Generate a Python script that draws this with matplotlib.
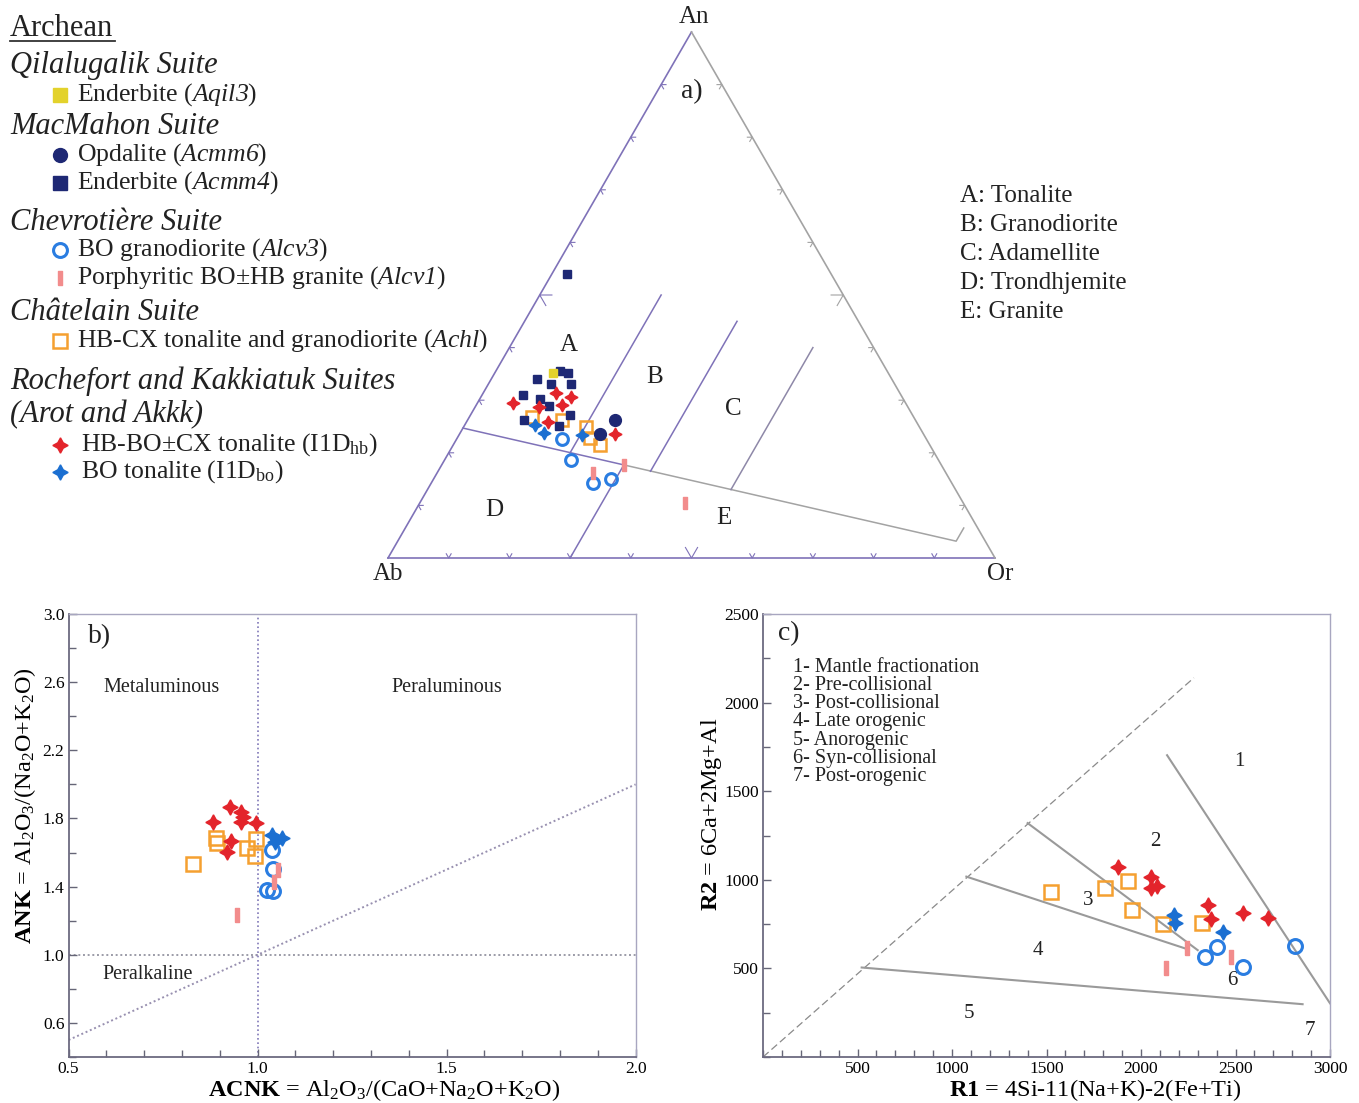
import numpy as np
import matplotlib.pyplot as plt
from matplotlib.path import Path
from matplotlib.ticker import MultipleLocator

plt.rcParams['font.family'] = ['Liberation Serif', 'DejaVu Serif']
plt.rcParams['mathtext.fontset'] = 'custom'
plt.rcParams['mathtext.rm'] = 'Liberation Serif'
plt.rcParams['mathtext.it'] = 'Liberation Serif:italic'
plt.rcParams['mathtext.bf'] = 'Liberation Serif:bold'
# sample codes are set fully in italic (digits included) through \mathsf
plt.rcParams['mathtext.sf'] = 'Liberation Serif:italic'
plt.rcParams['text.color'] = '#222222'

# ---------------- a) normative An-Ab-Or (percent, Ab = 100 - An - Or) ----------------
aqil3_an = [35.2]
aqil3_or = [9.6]
acmm4_an = [35.6, 35.1, 34.0, 33.0, 33.1, 31.0, 30.2, 28.9, 27.2, 26.3, 25.1, 54.0]
acmm4_or = [10.5, 12.1, 7.6, 10.4, 13.6, 6.8, 10.0, 12.0, 16.4, 9.2, 15.6, 2.5]
acmm6_an = [26.3, 23.6]
acmm6_or = [24.3, 23.1]
hb_an = [29.4, 31.3, 30.7, 28.8, 29.1, 25.9, 23.6]
hb_or = [5.9, 12.0, 14.8, 10.4, 14.1, 13.4, 25.6]
bo_an = [25.2, 23.7, 23.4]
bo_or = [11.6, 13.8, 20.3]
alcv3_an = [22.6, 18.6, 14.3, 15.0]
alcv3_or = [17.3, 20.9, 26.7, 29.2]
alcv1_an = [17.7, 16.1, 10.4]
alcv1_or = [30.0, 25.8, 43.7]
achl_an = [26.9, 26.3, 25.0, 22.8, 21.5]
achl_or = [10.2, 15.5, 20.1, 21.9, 24.2]

# O'Connor field boundaries (An %, Or %)
td_line_an, td_line_or = [24.7, 17.7], [0.0, 30.0]
eg_line_an, eg_line_or = [17.7, 3.2, 5.7], [30.0, 92.0, 92.0]
ab_line_an, ab_line_or = [20.0, 50.0], [20.0, 20.0]
de_line_an, de_line_or = [0.0, 17.7], [30.0, 30.0]
bc_line_an, bc_line_or = [16.5, 45.0], [35.0, 35.0]
ce_line_an, ce_line_or = [13.0, 40.0], [50.0, 50.0]
tern_ticks = [0.1, 0.2, 0.3, 0.4, 0.5, 0.6, 0.7, 0.8, 0.9]

# ---------------- b) Shand index ----------------
b_hb_acnk = [0.927, 0.956, 0.961, 0.955, 0.881, 0.995, 0.929, 0.920]
b_hb_ank = [1.869, 1.840, 1.810, 1.781, 1.781, 1.775, 1.670, 1.605]
b_bo_acnk = [1.037, 1.064, 1.046]
b_bo_ank = [1.703, 1.684, 1.664]
b_achl_acnk = [0.890, 0.892, 0.996, 0.971, 0.993, 0.830]
b_achl_ank = [1.684, 1.654, 1.678, 1.625, 1.580, 1.533]
b_alcv3_acnk = [1.037, 1.042, 1.026, 1.042]
b_alcv3_ank = [1.615, 1.502, 1.380, 1.376]
b_alcv1_acnk = [1.055, 1.044, 0.946]
b_alcv1_ank = [1.498, 1.429, 1.234]

# ---------------- c) R1-R2 ----------------
c_hb_r1 = [1880, 2053, 2053, 2083, 2356, 2369, 2541, 2670]
c_hb_r2 = [1073, 1014, 954, 963, 860, 779, 813, 785]
c_bo_r1 = [2176, 2180, 2432]
c_bo_r2 = [803, 756, 705]
c_achl_r1 = [1522, 1810, 1933, 1951, 2118, 2321]
c_achl_r2 = [932, 954, 992, 831, 751, 756]
c_alcv3_r1 = [2339, 2404, 2541, 2815]
c_alcv3_r2 = [564, 620, 507, 628]
c_alcv1_r1 = [2242, 2132, 2476]
c_alcv1_r2 = [615, 505, 564]

c_dash_r1, c_dash_r2 = [0, 2280], [0, 2140]
c_l23_r1, c_l23_r2 = [1400, 2300], [1320, 603]
c_l34_r1, c_l34_r2 = [1076, 2230], [1018, 614]
c_l5_r1, c_l5_r2 = [522, 2855], [505, 298]
c_l1_r1, c_l1_r2 = [2138, 3000], [1703, 303]
c_fields = ['1- Mantle fractionation', '2- Pre-collisional', '3- Post-collisional',
            '4- Late orogenic', '5- Anorogenic', '6- Syn-collisional', '7- Post-orogenic']

# colours / markers
YEL = '#E3D22C'
NAVY = '#1E2874'
RED = '#E3242B'
BLUE = '#1B6FD1'
CIRC = '#2A7DE1'
PINK = '#F28C8C'
ORNG = '#F5A030'
PURP = '#7F72B8'
GREY = '#A3A3A3'
STAR = (4, 1, 0)
BAR = Path([(-0.17, -0.5), (0.17, -0.5), (0.17, 0.5), (-0.17, 0.5), (-0.17, -0.5)])


def tern_xy(an, orr):
    an = np.asarray(an, float) / 100.0
    orr = np.asarray(orr, float) / 100.0
    return orr + an / 2.0, an * np.sqrt(3) / 2.0


def draw_groups(ax, groups, scale=1.0):
    for x, y, kind in groups:
        if kind == 'hb':
            ax.plot(x, y, ls='none', marker=STAR, ms=11 * scale, color=RED, mec=RED, zorder=5)
        elif kind == 'bo':
            ax.plot(x, y, ls='none', marker=STAR, ms=11 * scale, color=BLUE, mec=BLUE, zorder=5)
        elif kind == 'achl':
            ax.plot(x, y, ls='none', marker='s', ms=10.5 * scale, mfc='none', mec=ORNG, mew=1.8, zorder=4)
        elif kind == 'alcv3':
            ax.plot(x, y, ls='none', marker='o', ms=10 * scale, mfc='none', mec=CIRC, mew=2.2, zorder=4)
        elif kind == 'alcv1':
            ax.plot(x, y, ls='none', marker=BAR, ms=10 * scale, color=PINK, mec=PINK, zorder=4)
        elif kind == 'acmm4':
            ax.plot(x, y, ls='none', marker='s', ms=7 * scale, color=NAVY, mec=NAVY, zorder=5)
        elif kind == 'acmm6':
            ax.plot(x, y, ls='none', marker='o', ms=10 * scale, color=NAVY, mec=NAVY, zorder=5)
        elif kind == 'aqil3':
            ax.plot(x, y, ls='none', marker='s', ms=7 * scale, color=YEL, mec=YEL, zorder=6)


fig = plt.figure(figsize=(13.59, 11.03), dpi=100)
W, H = 1359.0, 1103.0

# ---------- legend area (figure pixel layout) ----------
leg = fig.add_axes([0, 0, 1, 1])
leg.set_xlim(0, W)
leg.set_ylim(H, 0)
leg.axis('off')

HEAD = 22
ENTRY = 18.5
leg.text(10, 28, 'Archean', fontsize=22, va='center')
leg.plot([10, 115], [41, 41], color='#333333', lw=1.3)
heads = [(65, 'Qilalugalik Suite'), (127, 'MacMahon Suite'), (222, 'Chevrotière Suite'),
         (313, 'Châtelain Suite'), (381, 'Rochefort and Kakkiatuk Suites'), (415, '(Arot and Akkk)')]
for yy, s in heads:
    leg.text(10, yy, s, fontsize=HEAD, style='italic', va='center')

entries = [
    (95, r'Enderbite ($\mathsf{Aqil3}$)', 'aqil3'),
    (155, r'Opdalite ($\mathsf{Acmm6}$)', 'acmm6'),
    (183, r'Enderbite ($\mathsf{Acmm4}$)', 'acmm4'),
    (250, r'BO granodiorite ($\mathsf{Alcv3}$)', 'alcv3'),
    (278, r'Porphyritic BO±HB granite ($\mathsf{Alcv1}$)', 'alcv1'),
    (341, r'HB-CX tonalite and granodiorite ($\mathsf{Achl}$)', 'achl'),
    (445, r'HB-BO±CX tonalite (I1D$_{\mathrm{hb}}$)', 'hb'),
    (472, r'BO tonalite (I1D$_{\mathrm{bo}}$)', 'bo'),
]
for yy, s, kind in entries:
    xt = 81 if kind in ('hb', 'bo') else 77
    leg.text(xt, yy, s, fontsize=ENTRY, va='center')
    sc = 1.5 if kind in ('acmm4', 'aqil3') else 1.0
    draw_groups(leg, [([60], [yy], kind)], scale=sc)

for i, s in enumerate(['A: Tonalite', 'B: Granodiorite', 'C: Adamellite', 'D: Trondhjemite', 'E: Granite']):
    leg.text(960, 196 + i * 29, s, fontsize=18, va='center')

# ---------- a) ternary ----------
axa = fig.add_axes([388 / W, (H - 558) / H, 607 / W, 526 / H])
axa.set_xlim(0, 1)
axa.set_ylim(0, np.sqrt(3) / 2)
axa.axis('off')

h = np.sqrt(3) / 2
axa.plot([0, 1], [0, 0], color=PURP, lw=1.2, clip_on=False)
axa.plot([0, 0.5], [0, h], color=PURP, lw=1.2, clip_on=False)
axa.plot([1, 0.5], [0, h], color=GREY, lw=1.2, clip_on=False)

for t in tern_ticks:
    L = 0.02 if abs(t - 0.5) < 1e-6 else 0.008
    # base
    axa.plot([t - 0.5 * L, t, t + 0.5 * L], [h * L, 0, h * L], color=PURP, lw=0.8, clip_on=False)
    # Ab-An edge
    px, py = 0.5 * t, h * t
    axa.plot([px + L, px, px + 0.5 * L], [py, py, py - h * L], color=PURP, lw=0.8, clip_on=False)
    # Or-An edge
    px, py = 1 - 0.5 * t, h * t
    axa.plot([px - L, px, px - 0.5 * L], [py, py, py - h * L], color=GREY, lw=0.8, clip_on=False)

for an, orr, col in [(td_line_an, td_line_or, PURP), (eg_line_an, eg_line_or, GREY),
                     (ab_line_an, ab_line_or, PURP), (de_line_an, de_line_or, PURP),
                     (bc_line_an, bc_line_or, PURP), (ce_line_an, ce_line_or, '#8E88A8')]:
    x, y = tern_xy(an, orr)
    axa.plot(x, y, color=col, lw=1.1, clip_on=False)

tern_groups = [
    (*tern_xy(acmm4_an, acmm4_or), 'acmm4'),
    (*tern_xy(aqil3_an, aqil3_or), 'aqil3'),
    (*tern_xy(achl_an, achl_or), 'achl'),
    (*tern_xy(alcv3_an, alcv3_or), 'alcv3'),
    (*tern_xy(alcv1_an, alcv1_or), 'alcv1'),
    (*tern_xy(hb_an, hb_or), 'hb'),
    (*tern_xy(bo_an, bo_or), 'bo'),
    (*tern_xy(acmm6_an, acmm6_or), 'acmm6'),
]
draw_groups(axa, tern_groups, scale=0.85)

axa.text(0.504, 0.891, 'An', fontsize=18, ha='center', va='center')
axa.text(0.0, -0.026, 'Ab', fontsize=18, ha='center', va='center')
axa.text(1.008, -0.026, 'Or', fontsize=18, ha='center', va='center')
axa.text(0.501, 0.768, 'a)', fontsize=20, ha='center', va='center')
for lab, an, orr in [('A', 40.5, 9.6), ('B', 34.4, 26.8), ('C', 28.3, 42.7),
                     ('D', 9.1, 13.0), ('E', 7.6, 51.5)]:
    x, y = tern_xy(an, orr)
    axa.text(x, y, lab, fontsize=18, ha='center', va='center')


def style_axes(ax):
    for side in ('left', 'bottom'):
        ax.spines[side].set_color('#6C6A80')
        ax.spines[side].set_linewidth(1.3)
    for side in ('top', 'right'):
        ax.spines[side].set_color('#A8A6C0')
        ax.spines[side].set_linewidth(1.0)
    ax.tick_params(which='both', direction='in', color='#666677', labelsize=12.5, pad=3)
    ax.tick_params(which='major', length=6, width=1.0)
    ax.tick_params(which='minor', length=5, width=1.0)


# ---------- b) A/NK vs A/CNK ----------
axb = fig.add_axes([68.6 / W, (H - 1057) / H, 567 / W, 443 / H])
axb.set_xlim(0.5, 2.0)
axb.set_ylim(0.4, 3.0)
axb.set_xticks([0.5, 1.0, 1.5, 2.0])
axb.set_xticklabels(['0.5', '1.0', '1.5', '2.0'])
axb.xaxis.set_minor_locator(MultipleLocator(0.1))
axb.set_yticks([0.6, 1.0, 1.4, 1.8, 2.2, 2.6, 3.0])
axb.set_yticklabels(['0.6', '1.0', '1.4', '1.8', '2.2', '2.6', '3.0'])
axb.yaxis.set_minor_locator(MultipleLocator(0.2))
style_axes(axb)

axb.axvline(1.0, color='#8078B8', lw=1.2, ls=(0, (1, 1.6)), zorder=1)
axb.axhline(1.0, color='#9C9CA8', lw=1.4, ls=(0, (1, 1.4)), zorder=1)
axb.plot([0.5, 2.0], [0.5, 2.0], color='#9890B0', lw=1.4, ls=(0, (1, 1.4)), zorder=1)

draw_groups(axb, [
    (b_achl_acnk, b_achl_ank, 'achl'),
    (b_alcv3_acnk, b_alcv3_ank, 'alcv3'),
    (b_alcv1_acnk, b_alcv1_ank, 'alcv1'),
    (b_hb_acnk, b_hb_ank, 'hb'),
    (b_bo_acnk, b_bo_ank, 'bo'),
], scale=1.0)

axb.text(0.054, 0.95, 'b)', transform=axb.transAxes, fontsize=20, ha='center', va='center')
axb.text(0.747, 2.57, 'Metaluminous', fontsize=14.5, ha='center', va='center')
axb.text(1.50, 2.57, 'Peraluminous', fontsize=14.5, ha='center', va='center')
axb.text(0.71, 0.885, 'Peralkaline', fontsize=14.5, ha='center', va='center')

axb.set_xlabel(r'$\mathbf{ACNK}$ = Al$_2$O$_3$/(CaO+Na$_2$O+K$_2$O)', fontsize=17.5)
axb.xaxis.set_label_coords(0.556, -0.0745)
axb.xaxis.label.set_va('center')
axb.set_ylabel(r'$\mathbf{ANK}$ = Al$_2$O$_3$/(Na$_2$O+K$_2$O)', fontsize=17.5)
axb.yaxis.set_label_coords(-0.077, 0.567)
axb.yaxis.label.set_va('center')

# ---------- c) R1-R2 ----------
axc = fig.add_axes([763 / W, (H - 1057) / H, 567 / W, 443 / H])
axc.set_xlim(0, 3000)
axc.set_ylim(0, 2500)
axc.set_xticks([500, 1000, 1500, 2000, 2500, 3000])
axc.xaxis.set_minor_locator(MultipleLocator(100))
axc.set_yticks([500, 1000, 1500, 2000, 2500])
axc.yaxis.set_minor_locator(MultipleLocator(250))
style_axes(axc)

axc.plot(c_dash_r1, c_dash_r2, color='#8A8A8A', lw=0.9, ls=(0, (6, 3)))
for r1, r2 in [(c_l23_r1, c_l23_r2), (c_l34_r1, c_l34_r2), (c_l5_r1, c_l5_r2), (c_l1_r1, c_l1_r2)]:
    axc.plot(r1, r2, color='#9A9A9A', lw=1.5)

draw_groups(axc, [
    (c_achl_r1, c_achl_r2, 'achl'),
    (c_alcv3_r1, c_alcv3_r2, 'alcv3'),
    (c_alcv1_r1, c_alcv1_r2, 'alcv1'),
    (c_hb_r1, c_hb_r2, 'hb'),
    (c_bo_r1, c_bo_r2, 'bo'),
], scale=1.0)

axc.text(0.046, 0.955, 'c)', transform=axc.transAxes, fontsize=20, ha='center', va='center')
for i, s in enumerate(c_fields):
    axc.text(159, 2200 - i * 103, s, fontsize=14.5, ha='left', va='center')
for lab, r1, r2 in [('1', 2520, 1665), ('2', 2078, 1215), ('3', 1722, 885), ('4', 1456, 603),
                    ('5', 1089, 245), ('6', 2484, 433), ('7', 2893, 151)]:
    axc.text(r1, r2, lab, fontsize=15, ha='center', va='center')

axc.set_xlabel(r'$\mathbf{R1}$ = 4Si-11(Na+K)-2(Fe+Ti)', fontsize=17.5)
axc.xaxis.set_label_coords(0.586, -0.0745)
axc.xaxis.label.set_va('center')
axc.set_ylabel(r'$\mathbf{R2}$ = 6Ca+2Mg+Al', fontsize=17.5)
axc.yaxis.set_label_coords(-0.09, 0.549)
axc.yaxis.label.set_va('center')

fig.savefig('out.png', dpi=100)
